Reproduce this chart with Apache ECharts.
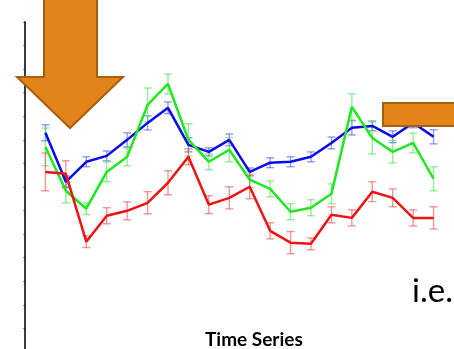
<!DOCTYPE html>
<html>
<head>
<meta charset="utf-8">
<script src="https://cdn.jsdelivr.net/npm/echarts@6/dist/echarts.min.js"></script>
<style>
  html, body { margin: 0; padding: 0; background: #ffffff; overflow: hidden; }
  #chart { width: 454px; height: 352px; }
</style>
</head>
<body>
<div id="chart"></div>
<script>
// Time points along the horizontal axis
const timePoints = [1, 2, 3, 4, 5, 6, 7, 8, 9, 10, 11, 12, 13, 14, 15, 16, 17, 18, 19, 20];

// Series means and error half-widths
const blueMean = [9.30, 7.22, 8.07, 8.32, 9.00, 9.72, 10.36, 8.79, 8.49, 9.00, 7.64, 8.03, 8.07, 8.28, 8.87, 9.51, 9.59, 9.13, 9.72, 9.13];
const blueErr  = [0.34, 0.25, 0.21, 0.21, 0.30, 0.30, 0.25, 0.30, 0.17, 0.25, 0.17, 0.21, 0.21, 0.21, 0.25, 0.30, 0.21, 0.25, 0.21, 0.30];

const greenMean = [8.70, 6.84, 6.08, 7.64, 8.28, 10.48, 11.37, 9.00, 8.07, 8.58, 7.31, 6.92, 5.95, 6.12, 6.71, 10.40, 9.08, 8.49, 8.87, 7.35];
const greenErr  = [0.80, 0.51, 0.25, 0.42, 0.38, 0.72, 0.42, 0.68, 0.34, 0.51, 0.34, 0.34, 0.34, 0.34, 0.42, 0.55, 0.68, 0.47, 0.42, 0.51];

const redMean = [7.64, 7.56, 4.68, 5.78, 5.99, 6.33, 7.18, 8.28, 6.25, 6.54, 7.01, 5.14, 4.64, 4.59, 5.82, 5.69, 6.80, 6.54, 5.69, 5.69];
const redErr  = [0.80, 0.55, 0.25, 0.34, 0.38, 0.47, 0.51, 0.34, 0.38, 0.47, 0.51, 0.34, 0.47, 0.25, 0.34, 0.34, 0.42, 0.38, 0.34, 0.47];

// Value-axis ticks
const yTicks = [0, 1, 2, 3, 4, 5, 6, 7, 8, 9, 10, 11, 12, 13, 14];

const chart = echarts.init(document.getElementById('chart'), null, { renderer: 'canvas' });

function lineSeries(name, mean, color) {
  return {
    name: name,
    type: 'line',
    data: timePoints.map((t, i) => [t, mean[i]]),
    symbol: 'none',
    lineStyle: { color: color, width: 2.5 },
    z: 3,
    animation: false
  };
}

function errorSeries(name, mean, err, color) {
  return {
    name: name + ' error',
    type: 'custom',
    data: timePoints.map((t, i) => [t, mean[i] - err[i], mean[i] + err[i]]),
    renderItem: function (params, api) {
      const x = api.value(0);
      const lo = api.coord([x, api.value(1)]);
      const hi = api.coord([x, api.value(2)]);
      const cap = 4;
      const style = { stroke: color, lineWidth: 1.4, fill: null };
      return {
        type: 'group',
        children: [
          { type: 'line', shape: { x1: lo[0], y1: lo[1], x2: hi[0], y2: hi[1] }, style: style },
          { type: 'line', shape: { x1: lo[0] - cap, y1: lo[1], x2: lo[0] + cap, y2: lo[1] }, style: style },
          { type: 'line', shape: { x1: hi[0] - cap, y1: hi[1], x2: hi[0] + cap, y2: hi[1] }, style: style }
        ]
      };
    },
    z: 2,
    animation: false
  };
}

const arrowFill = '#E4831A';
const arrowStroke = '#A5600F';

chart.setOption({
  backgroundColor: '#ffffff',
  animation: false,
  grid: { left: 25, right: -17.5, top: 22, bottom: 0, containLabel: false },
  xAxis: {
    type: 'value',
    min: 0,
    max: 21,
    show: false
  },
  yAxis: {
    type: 'value',
    min: yTicks[0],
    max: yTicks[yTicks.length - 1],
    interval: 1,
    axisLine: { show: true, lineStyle: { color: '#3c3c3c', width: 2 } },
    axisTick: { show: true, inside: false, length: 1.5, lineStyle: { color: '#222222', width: 1 } },
    axisLabel: { show: false },
    splitLine: { show: false }
  },
  series: [
    errorSeries('Blue', blueMean, blueErr, 'rgba(70,90,225,0.6)'),
    errorSeries('Green', greenMean, greenErr, 'rgba(80,225,80,0.6)'),
    errorSeries('Red', redMean, redErr, 'rgba(235,80,80,0.6)'),
    lineSeries('Blue', blueMean, '#0a0aee'),
    lineSeries('Green', greenMean, '#1ee81e'),
    lineSeries('Red', redMean, '#f01212')
  ],
  graphic: [
    {
      type: 'polygon',
      z: 100,
      shape: { points: [[44, -5], [97, -5], [97, 77], [123, 77], [70, 128], [17, 77], [44, 77]] },
      style: { fill: arrowFill, stroke: arrowStroke, lineWidth: 2 }
    },
    {
      type: 'rect',
      z: 100,
      shape: { x: 383, y: 103, width: 90, height: 23 },
      style: { fill: arrowFill, stroke: arrowStroke, lineWidth: 2 }
    },
    {
      type: 'text',
      z: 100,
      left: 205,
      top: 330,
      style: { text: 'Time Series', font: 'bold 19px Lato, "Open Sans", sans-serif', fill: '#000000' }
    },
    {
      type: 'text',
      z: 100,
      left: 412,
      top: 275,
      style: { text: 'i.e.', font: '33px Lato, "Open Sans", sans-serif', fill: '#000000' }
    }
  ]
});
</script>
</body>
</html>
